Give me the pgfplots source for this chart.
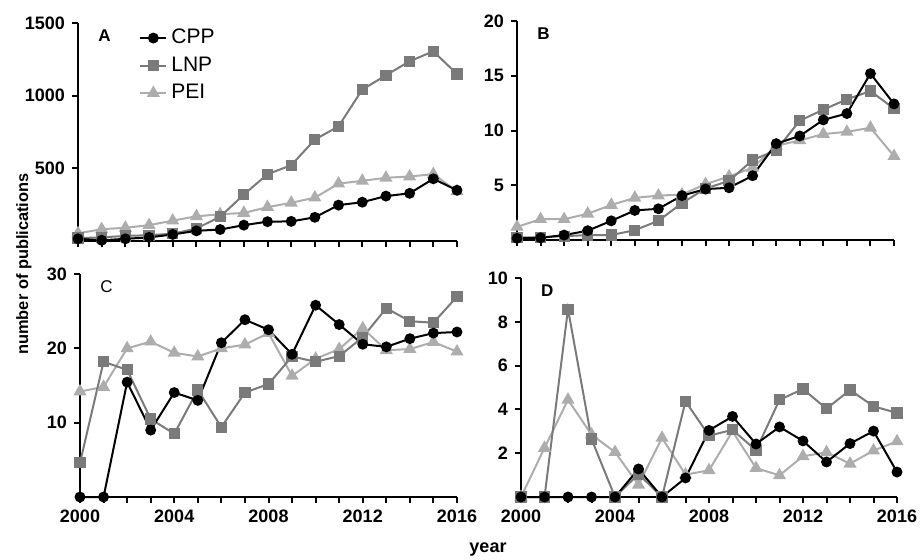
\documentclass[border=0pt]{standalone}
\usepackage{pgfplots}
\pgfplotsset{compat=1.18}
\usepackage{fontspec}
\setmainfont{Liberation Sans}
\definecolor{cpp}{gray}{0.0}
\definecolor{lnp}{gray}{0.48}
\definecolor{pei}{gray}{0.68}
\pgfplotsset{
  panel/.style={
    scale only axis,
    anchor=south west,
    xmin=2000, xmax=2016,
    axis x line*=bottom, axis y line*=left,
    axis line style={-, line width=1.2pt, black},
    every tick/.style={black, line width=1pt},
    tick align=outside,
    major tick length=3pt, minor tick length=3pt,
    xtick={2000,2004,2008,2012,2016},
    minor xtick={2001,2002,2003,2005,2006,2007,2009,2010,2011,2013,2014,2015},
    ticklabel style={font=\fontsize{9}{10}\selectfont\bfseries},
    /pgf/number format/assume math mode=true,
    /pgf/number format/1000 sep={},
    clip=false,
  },
  scpp/.style={color=cpp, line width=1pt, mark=*, mark size=2.2pt, mark options={solid, fill=cpp}},
  slnp/.style={color=lnp, line width=1pt, mark=square*, mark size=2.3pt, mark options={solid, fill=lnp}},
  spei/.style={color=pei, line width=1pt, mark=triangle*, mark size=2.8pt, mark options={solid, fill=pei}},
}
\begin{document}
\begin{tikzpicture}
\useasboundingbox (0,0) rectangle (460pt,279.5pt);
% Panel A
\begin{axis}[panel, at={(39pt,159pt)}, width=189.5pt, height=109pt,
  ymin=0, ymax=1500, ytick={500,1000,1500}, xticklabels={},
  legend style={at={(0.145,1.01)}, anchor=north west, draw=none, fill=none,
    font=\fontsize{10.5}{11}\selectfont, row sep=1pt, legend cell align=left},
  legend image code/.code={\draw[#1] (0pt,0pt) -- (13pt,0pt); \draw[#1, only marks] plot coordinates {(6.5pt,0pt)};},
  reverse legend]
\addplot[spei] coordinates {(2000,53)(2001,81)(2002,91)(2003,109)(2004,140)(2005,170)(2006,184)(2007,193)(2008,233)(2009,263)(2010,298)(2011,395)(2012,414)(2013,435)(2014,444)(2015,460)(2016,342)};
\addlegendentry{PEI}
\addplot[slnp] coordinates {(2000,20)(2001,25)(2002,35)(2003,40)(2004,50)(2005,86)(2006,167)(2007,319)(2008,460)(2009,521)(2010,698)(2011,789)(2012,1042)(2013,1140)(2014,1237)(2015,1305)(2016,1149)};
\addlegendentry{LNP}
\addplot[scpp] coordinates {(2000,15)(2001,5)(2002,15)(2003,25)(2004,45)(2005,70)(2006,79)(2007,109)(2008,133)(2009,135)(2010,163)(2011,247)(2012,267)(2013,309)(2014,328)(2015,428)(2016,349)};
\addlegendentry{CPP}
\node[font=\fontsize{8.5}{10}\selectfont\bfseries, anchor=north west] at (rel axis cs:0.035,1.0) {A};
\end{axis}
% Panel B
\begin{axis}[panel, at={(258.5pt,159.5pt)}, width=188.5pt, height=109.5pt,
  ymin=0, ymax=20, ytick={5,10,15,20}, xticklabels={}]
\addplot[spei] coordinates {(2000,1.2)(2001,1.9)(2002,1.9)(2003,2.4)(2004,3.2)(2005,3.85)(2006,4.05)(2007,4.15)(2008,5.1)(2009,5.8)(2010,6.6)(2011,8.6)(2012,9.1)(2013,9.67)(2014,9.88)(2015,10.25)(2016,7.66)};
\addplot[slnp] coordinates {(2000,0.25)(2001,0.25)(2002,0.35)(2003,0.45)(2004,0.45)(2005,0.9)(2006,1.75)(2007,3.37)(2008,4.7)(2009,5.4)(2010,7.3)(2011,8.2)(2012,10.9)(2013,11.9)(2014,12.85)(2015,13.6)(2016,12.0)};
\addplot[scpp] coordinates {(2000,0.15)(2001,0.2)(2002,0.45)(2003,0.85)(2004,1.75)(2005,2.7)(2006,2.85)(2007,4.05)(2008,4.65)(2009,4.77)(2010,5.87)(2011,8.8)(2012,9.5)(2013,10.97)(2014,11.55)(2015,15.2)(2016,12.43)};
\node[font=\fontsize{8.5}{10}\selectfont\bfseries, anchor=north west] at (rel axis cs:0.035,1.0) {B};
\end{axis}
% Panel C
\begin{axis}[panel, at={(40pt,31pt)}, width=188.5pt, height=111.5pt,
  ymin=0, ymax=30, ytick={10,20,30}]
\addplot[spei] coordinates {(2000,14.2)(2001,14.8)(2002,20.0)(2003,20.9)(2004,19.4)(2005,18.9)(2006,20.0)(2007,20.5)(2008,22.05)(2009,16.3)(2010,18.6)(2011,19.9)(2012,22.7)(2013,19.75)(2014,19.9)(2015,20.85)(2016,19.55)};
\addplot[slnp] coordinates {(2000,4.6)(2001,18.2)(2002,17.1)(2003,10.5)(2004,8.5)(2005,14.4)(2006,9.4)(2007,14.05)(2008,15.2)(2009,18.9)(2010,18.2)(2011,18.95)(2012,21.5)(2013,25.4)(2014,23.65)(2015,23.45)(2016,26.95)};
\addplot[scpp] coordinates {(2000,0)(2001,0)(2002,15.45)(2003,9.0)(2004,14.05)(2005,13.0)(2006,20.75)(2007,23.85)(2008,22.5)(2009,19.2)(2010,25.8)(2011,23.2)(2012,20.55)(2013,20.2)(2014,21.3)(2015,22.05)(2016,22.2)};
\node[font=\fontsize{8.5}{10}\selectfont, anchor=north west] at (rel axis cs:0.035,1.0) {C};
\end{axis}
% Panel D
\begin{axis}[panel, at={(260.5pt,31pt)}, width=188pt, height=109.5pt,
  ymin=0, ymax=10, ytick={2,4,6,8,10}]
\addplot[spei] coordinates {(2000,0)(2001,2.24)(2002,4.44)(2003,2.85)(2004,2.05)(2005,0.56)(2006,2.7)(2007,1.02)(2008,1.22)(2009,3.0)(2010,1.32)(2011,0.99)(2012,1.86)(2013,2.04)(2014,1.52)(2015,2.12)(2016,2.54)};
\addplot[slnp] coordinates {(2000,0)(2001,0)(2002,8.58)(2003,2.65)(2004,0)(2005,1.05)(2006,0)(2007,4.37)(2008,2.8)(2009,3.07)(2010,2.13)(2011,4.44)(2012,4.93)(2013,4.03)(2014,4.89)(2015,4.14)(2016,3.84)};
\addplot[scpp] coordinates {(2000,0)(2001,0)(2002,0)(2003,0)(2004,0)(2005,1.28)(2006,0)(2007,0.87)(2008,3.04)(2009,3.68)(2010,2.42)(2011,3.2)(2012,2.56)(2013,1.6)(2014,2.44)(2015,3.01)(2016,1.14)};
\node[font=\fontsize{8.5}{10}\selectfont\bfseries, anchor=north west] at (rel axis cs:0.035,1.0) {D};
\end{axis}
\node[rotate=90, font=\fontsize{8.2}{10}\selectfont\bfseries] at (12pt,147.5pt) {number of publications};
\node[font=\fontsize{9}{10}\selectfont\bfseries] at (244pt,4.5pt) {year};
\end{tikzpicture}
\end{document}
